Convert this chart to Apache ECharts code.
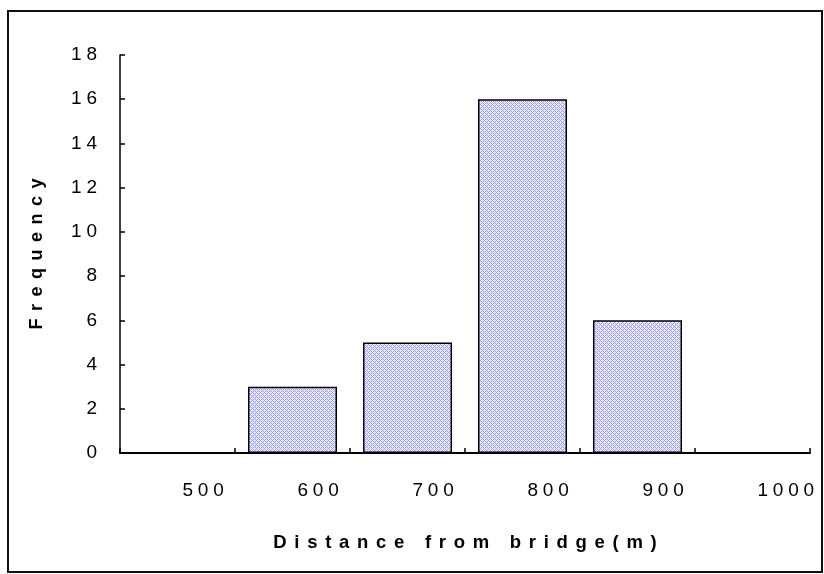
<!DOCTYPE html>
<html>
<head>
<meta charset="utf-8">
<script src="https://cdn.jsdelivr.net/npm/echarts@6/dist/echarts.min.js"></script>
<style>
  html, body { margin: 0; padding: 0; background: #fff; }
  #chart { width: 824px; height: 574px; }
</style>
</head>
<body>
<div id="chart"></div>
<script>
// Histogram bins (distance from bridge, metres) and their counts
const categories = ['500', '600', '700', '800', '900', '1000'];
const frequency = [0, 3, 5, 16, 6, 0];
const yMin = 0, yMax = 18, yStep = 2;
const xTitle = 'Distance from bridge(m)';
const yTitle = 'Frequency';

// Wide, evenly tracked lettering
const GAP = '\u2005';
const TITLE_GAP = '\u2004\u200A';
const spaced = (s, sep) => Array.from(String(s)).join(sep);

// Small blue cross-hatch tile used to fill the bars
function hatchTile() {
  const c = document.createElement('canvas');
  c.width = 4; c.height = 4;
  const g = c.getContext('2d');
  g.fillStyle = '#e8e8fd';
  g.fillRect(0, 0, 4, 4);
  g.fillStyle = '#9f9ff3';
  for (let x = 0; x < 4; x++) {
    for (let y = 0; y < 4; y++) {
      if ((x + y) % 4 === 0 || (x - y + 4) % 4 === 0) g.fillRect(x, y, 1, 1);
    }
  }
  return c;
}

const FONT = '"Liberation Sans", Arial, sans-serif';
const chart = echarts.init(document.getElementById('chart'), null, { renderer: 'canvas' });

chart.setOption({
  animation: false,
  backgroundColor: '#fff',
  graphic: [{
    type: 'rect',
    shape: { x: 8, y: 11, width: 814, height: 561 },
    style: { fill: 'none', stroke: '#111', lineWidth: 2 },
    silent: true
  }],
  grid: { left: 120, right: 14, top: 55, bottom: 121 },
  xAxis: {
    type: 'category',
    data: categories,
    boundaryGap: true,
    name: spaced(xTitle, TITLE_GAP),
    nameLocation: 'middle',
    nameGap: 80,
    nameTextStyle: { fontFamily: FONT, fontSize: 18.5, fontWeight: 'bold', color: '#000' },
    axisLine: { lineStyle: { color: '#000', width: 2 } },
    axisTick: { show: true, inside: true, length: 5, lineStyle: { color: '#000', width: 1.5 } },
    axisLabel: {
      fontFamily: FONT, fontSize: 19, color: '#000',
      margin: 28, align: 'left', padding: [0, 0, 0, 5],
      formatter: v => spaced(v, GAP)
    },
    splitLine: { show: false }
  },
  yAxis: {
    type: 'value',
    min: yMin, max: yMax, interval: yStep,
    name: spaced(yTitle, TITLE_GAP),
    nameLocation: 'middle',
    nameGap: 74,
    nameRotate: 90,
    nameTextStyle: { fontFamily: FONT, fontSize: 18, fontWeight: 'bold', color: '#000' },
    axisLine: { show: true, lineStyle: { color: '#000', width: 1.5 } },
    axisTick: { show: true, inside: true, length: 5, lineStyle: { color: '#000', width: 1.5 } },
    axisLabel: {
      fontFamily: FONT, fontSize: 19, color: '#000', margin: 23,
      formatter: v => spaced(v, GAP)
    },
    splitLine: { show: false }
  },
  series: [{
    type: 'bar',
    data: frequency,
    barCategoryGap: '22.6%',
    itemStyle: {
      color: { image: hatchTile(), repeat: 'repeat' },
      borderColor: '#000',
      borderWidth: 1.5
    }
  }]
});
</script>
</body>
</html>
